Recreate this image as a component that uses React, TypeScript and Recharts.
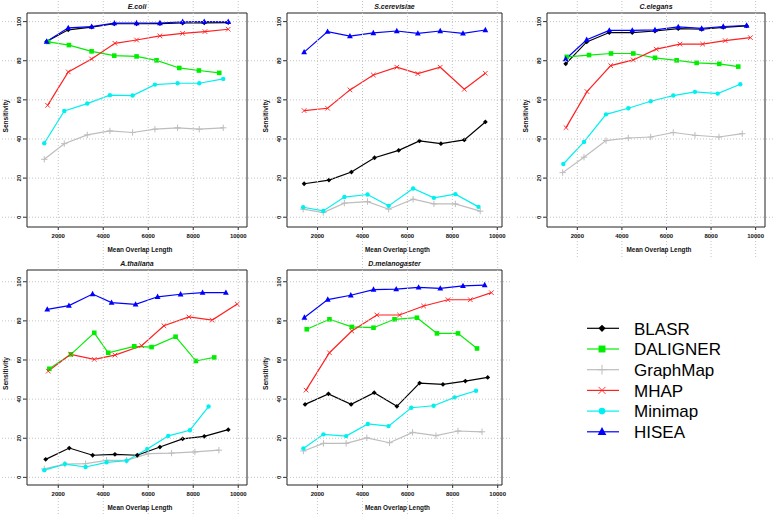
import React from "react";
import { Line, LineChart, ReferenceArea, XAxis, YAxis } from "recharts";

// [mean overlap length, sensitivity]
const ecoliBLASR = [[1484, 89.8], [2444, 95.8], [3484, 97.2], [4489, 98.9], [5484, 98.9], [6520, 99.0], [7529, 99.3], [8489, 99.4], [9556, 99.5]];
const ecoliDALIGNER = [[1556, 89.6], [2474, 88.0], [3481, 84.8], [4489, 82.6], [5481, 82.2], [6370, 80.2], [7378, 76.3], [8252, 75.0], [9156, 73.8]];
const ecoliGraphMap = [[1378, 29.6], [2267, 37.6], [3289, 42.1], [4296, 44.1], [5304, 43.3], [6296, 45.0], [7304, 45.7], [8267, 45.0], [9333, 45.7]];
const ecoliMHAP = [[1526, 57.2], [2444, 74.3], [3481, 80.9], [4519, 88.9], [5481, 90.6], [6519, 92.7], [7526, 94.0], [8519, 94.9], [9556, 96.1]];
const ecoliMinimap = [[1378, 37.8], [2267, 54.3], [3289, 58.1], [4296, 62.4], [5304, 62.2], [6296, 67.8], [7304, 68.5], [8267, 68.5], [9333, 70.7]];
const ecoliHISEA = [[1484, 89.8], [2444, 96.8], [3484, 97.4], [4489, 99.2], [5484, 99.3], [6520, 99.3], [7529, 99.9], [8489, 100], [9556, 99.9]];

const scerBLASR = [[1403, 17.1], [2507, 19.0], [3507, 23.1], [4537, 30.4], [5612, 34.2], [6536, 39.0], [7491, 37.6], [8531, 39.5], [9469, 48.7]];
const scerGraphMap = [[1358, 4.1], [2254, 2.4], [3194, 7.2], [4224, 8.0], [5164, 4.1], [6254, 9.2], [7179, 6.8], [8134, 6.8], [9239, 3.1]];
const scerMHAP = [[1402, 54.5], [2446, 55.7], [3442, 65.1], [4482, 72.7], [5527, 76.7], [6464, 73.4], [7460, 76.7], [8532, 65.4], [9469, 73.6]];
const scerMinimap = [[1358, 5.1], [2254, 3.2], [3194, 10.3], [4224, 11.6], [5164, 5.8], [6254, 14.7], [7179, 9.9], [8134, 11.8], [9164, 5.3]];
const scerHISEA = [[1402, 84.4], [2446, 94.9], [3442, 92.6], [4482, 94.2], [5527, 95.2], [6464, 94.0], [7460, 95.2], [8473, 94.0], [9469, 95.7]];

const celeBLASR = [[1480, 78.4], [2421, 89.6], [3435, 94.4], [4466, 94.4], [5484, 95.2], [6529, 96.4], [7578, 96.1], [8547, 97.1], [9596, 97.8]];
const celeDALIGNER = [[1525, 82.0], [2525, 82.9], [3511, 83.7], [4511, 83.7], [5484, 81.5], [6457, 80.2], [7354, 78.9], [8368, 78.4], [9220, 77.0]];
const celeGraphMap = [[1342, 22.8], [2300, 30.7], [3287, 39.2], [4287, 40.5], [5291, 41.0], [6305, 43.3], [7278, 41.9], [8356, 41.0], [9399, 42.7]];
const celeMHAP = [[1493, 45.8], [2435, 64.2], [3498, 77.5], [4511, 80.4], [5543, 85.9], [6605, 88.5], [7623, 88.5], [8632, 90.3], [9767, 91.8]];
const celeMinimap = [[1372, 27.2], [2300, 38.5], [3287, 52.6], [4287, 55.7], [5291, 59.3], [6305, 62.2], [7278, 64.1], [8296, 63.2], [9309, 68.0]];
const celeHISEA = [[1480, 80.9], [2421, 90.7], [3435, 95.5], [4466, 95.5], [5484, 95.8], [6529, 97.3], [7578, 96.5], [8547, 97.5], [9596, 98.0]];

const athaBLASR = [[1440, 9.2], [2489, 15.0], [3529, 11.3], [4519, 11.8], [5511, 11.3], [6519, 15.5], [7529, 19.7], [8489, 21.0], [9556, 24.4]];
const athaDALIGNER = [[1600, 55.5], [2563, 62.9], [3600, 73.9], [4222, 63.7], [5378, 67.0], [6148, 66.6], [7215, 71.9], [8119, 59.5], [8933, 61.3]];
const athaGraphMap = [[1378, 4.3], [2296, 6.8], [3215, 7.0], [4148, 8.7], [5037, 8.7], [6000, 12.1], [7037, 12.4], [8074, 13.0], [9141, 13.9]];
const athaMHAP = [[1556, 54.3], [2548, 62.9], [3600, 60.3], [4519, 62.5], [5704, 67.3], [6696, 77.5], [7807, 82.0], [8844, 80.4], [9956, 88.6]];
const athaMinimap = [[1378, 3.7], [2296, 6.8], [3215, 5.3], [4148, 7.7], [5037, 8.5], [5956, 14.5], [6889, 21.2], [7852, 24.1], [8681, 36.2]];
const athaHISEA = [[1511, 85.9], [2474, 87.8], [3526, 93.7], [4370, 89.3], [5437, 88.4], [6415, 92.3], [7437, 93.6], [8415, 94.4], [9452, 94.4]];

const dmelBLASR = [[1452, 37.3], [2489, 42.7], [3496, 37.3], [4519, 43.3], [5526, 36.3], [6533, 48.2], [7570, 47.5], [8563, 49.2], [9556, 51.1]];
const dmelDALIGNER = [[1526, 75.7], [2533, 80.8], [3526, 76.9], [4489, 76.5], [5422, 80.8], [6415, 81.6], [7304, 73.6], [8237, 73.6], [9081, 65.9]];
const dmelGraphMap = [[1378, 13.5], [2267, 17.4], [3274, 17.4], [4193, 20.2], [5200, 17.7], [6222, 23.0], [7259, 21.3], [8237, 23.7], [9304, 23.3]];
const dmelMHAP = [[1496, 44.6], [2533, 63.7], [3526, 74.8], [4637, 83.0], [5644, 83.0], [6711, 87.6], [7793, 90.8], [8785, 90.8], [9719, 94.4]];
const dmelMinimap = [[1378, 14.8], [2267, 22.0], [3274, 21.1], [4237, 27.3], [5156, 26.2], [6163, 35.6], [7156, 36.6], [8089, 40.9], [9037, 44.3]];
const dmelHISEA = [[1422, 81.7], [2459, 90.9], [3481, 93.1], [4489, 96.0], [5496, 96.2], [6489, 97.1], [7452, 96.6], [8459, 97.9], [9422, 98.3]];

const xTicks = [2000, 4000, 6000, 8000, 10000];
const yTicks = [0, 20, 40, 60, 80, 100];

const SERIES = [
  { name: "BLASR", color: "#000000", shape: "diamond" },
  { name: "DALIGNER", color: "#00ee00", shape: "square" },
  { name: "GraphMap", color: "#bdbdbd", shape: "plus" },
  { name: "MHAP", color: "#ff2020", shape: "cross" },
  { name: "Minimap", color: "#00f0f0", shape: "circle" },
  { name: "HISEA", color: "#0000ff", shape: "triangle" },
];

const FONT = "'Liberation Sans', Arial, Helvetica, sans-serif";
const GRID = "#c4c4c4";
const CW = 260;
const CH = 258;

const PANELS = [
  {
    title: "E.coli", left: 0, top: 0, plotLeft: 27, plotRight: 247, plotTop: 13, plotBottom: 227,
    xDomain: [610, 10390], yDomain: [-5, 104.4],
    data: { BLASR: ecoliBLASR, DALIGNER: ecoliDALIGNER, GraphMap: ecoliGraphMap, MHAP: ecoliMHAP, Minimap: ecoliMinimap, HISEA: ecoliHISEA },
  },
  {
    title: "S.cerevisiae", left: 255, top: 0, plotLeft: 32, plotRight: 247, plotTop: 13, plotBottom: 227,
    xDomain: [640, 10210], yDomain: [-5, 104.4],
    data: { BLASR: scerBLASR, GraphMap: scerGraphMap, MHAP: scerMHAP, Minimap: scerMinimap, HISEA: scerHISEA },
  },
  {
    title: "C.elegans", left: 515, top: 0, plotLeft: 32, plotRight: 250, plotTop: 13, plotBottom: 227,
    xDomain: [640, 10420], yDomain: [-5, 104.4],
    data: { BLASR: celeBLASR, DALIGNER: celeDALIGNER, GraphMap: celeGraphMap, MHAP: celeMHAP, Minimap: celeMinimap, HISEA: celeHISEA },
  },
  {
    title: "A.thaliana", left: 0, top: 257, plotLeft: 27, plotRight: 247, plotTop: 13, plotBottom: 228,
    xDomain: [610, 10390], yDomain: [-3.9, 106],
    data: { BLASR: athaBLASR, DALIGNER: athaDALIGNER, GraphMap: athaGraphMap, MHAP: athaMHAP, Minimap: athaMinimap, HISEA: athaHISEA },
  },
  {
    title: "D.melanogaster", left: 255, top: 257, plotLeft: 32, plotRight: 247, plotTop: 13, plotBottom: 228,
    xDomain: [650, 10190], yDomain: [-3.9, 106],
    data: { BLASR: dmelBLASR, DALIGNER: dmelDALIGNER, GraphMap: dmelGraphMap, MHAP: dmelMHAP, Minimap: dmelMinimap, HISEA: dmelHISEA },
  },
];

type Panel = (typeof PANELS)[number];

const Marker = ({ shape, cx, cy, color, s = 1 }: any) => {
  if (cx == null || cy == null) return null;
  switch (shape) {
    case "diamond": {
      const r = 2.4 * s;
      return <polygon points={`${cx},${cy - r} ${cx + r},${cy} ${cx},${cy + r} ${cx - r},${cy}`} fill={color} />;
    }
    case "square": {
      const h = 2.3 * s;
      return <rect x={cx - h} y={cy - h} width={2 * h} height={2 * h} fill={color} />;
    }
    case "plus": {
      const r = 3.2 * s;
      return <path d={`M${cx - r},${cy}H${cx + r}M${cx},${cy - r}V${cy + r}`} stroke={color} strokeWidth={1} fill="none" />;
    }
    case "cross": {
      const r = 2.3 * s;
      return <path d={`M${cx - r},${cy - r}L${cx + r},${cy + r}M${cx - r},${cy + r}L${cx + r},${cy - r}`} stroke={color} strokeWidth={0.9} fill="none" />;
    }
    case "circle":
      return <circle cx={cx} cy={cy} r={2.2 * s} fill={color} />;
    default: {
      const r = 2.9 * s;
      return <polygon points={`${cx},${cy - r * 1.1} ${cx + r},${cy + r * 0.75} ${cx - r},${cy + r * 0.75}`} fill={color} />;
    }
  }
};

const makeXTick = (p: Panel) => (props: any) => {
  const { x, payload } = props;
  return (
    <g>
      <line x1={x} x2={x} y1={p.plotTop - 12} y2={CH} stroke={GRID} strokeDasharray="1 2" />
      <line x1={x} x2={x} y1={p.plotBottom} y2={p.plotBottom + 3} stroke="#333" />
      <text x={x} y={p.plotBottom + 10.5} textAnchor="middle" fontSize={6} fontWeight="bold" fontFamily={FONT} fill="#111">
        {payload.value}
      </text>
    </g>
  );
};

const makeYTick = (p: Panel) => (props: any) => {
  const { y, payload } = props;
  const lx = p.plotLeft - 5.5;
  return (
    <g>
      <line x1={2} x2={p.plotRight + 10} y1={y} y2={y} stroke={GRID} strokeDasharray="1 2" />
      <line x1={p.plotLeft - 4} x2={p.plotLeft} y1={y} y2={y} stroke="#333" />
      <text x={lx} y={y} transform={`rotate(-90, ${lx}, ${y})`} textAnchor="middle" fontSize={6} fontWeight="bold" fontFamily={FONT} fill="#111">
        {payload.value}
      </text>
    </g>
  );
};

const PanelText = ({ p }: { p: Panel }) => {
  const midX = (p.plotLeft + p.plotRight) / 2;
  const midY = (p.plotTop + p.plotBottom) / 2 - 4;
  const yx = p.plotLeft - 19.5;
  return (
    <g fontFamily={FONT} fill="#111">
      <text x={midX} y={p.plotTop - 4.5} textAnchor="middle" fontSize={7} fontStyle="italic" fontWeight="bold">
        {p.title}
      </text>
      <text x={midX + 3} y={p.plotBottom + 24.5} textAnchor="middle" fontSize={6.4} fontWeight="bold">
        Mean Overlap Length
      </text>
      <text x={yx} y={midY} transform={`rotate(-90, ${yx}, ${midY})`} textAnchor="middle" fontSize={6.6} fontWeight="bold">
        Sensitivity
      </text>
    </g>
  );
};

const PanelChart = ({ p }: { p: Panel }) => (
  <div style={{ position: "absolute", left: p.left, top: p.top }}>
    <LineChart width={CW} height={CH} margin={{ top: p.plotTop, right: CW - p.plotRight, bottom: 0, left: 0 }}>
      <XAxis
        type="number"
        dataKey="x"
        domain={p.xDomain}
        ticks={xTicks}
        interval={0}
        allowDataOverflow
        height={CH - p.plotBottom}
        axisLine={false}
        tickLine={false}
        tick={makeXTick(p)}
        label={<PanelText p={p} />}
      />
      <YAxis
        type="number"
        domain={p.yDomain}
        ticks={yTicks}
        interval={0}
        allowDataOverflow
        width={p.plotLeft}
        axisLine={false}
        tickLine={false}
        tick={makeYTick(p)}
      />
      <ReferenceArea
        x1={p.xDomain[0]}
        x2={p.xDomain[1]}
        y1={p.yDomain[0]}
        y2={p.yDomain[1]}
        fill="none"
        fillOpacity={0}
        stroke="#222"
        strokeWidth={1}
        ifOverflow="visible"
      />
      {SERIES.filter((s) => (p.data as any)[s.name]).map((s) => (
        <Line
          key={s.name}
          data={(p.data as any)[s.name].map(([x, y]: number[]) => ({ x, y }))}
          dataKey="y"
          type="linear"
          stroke={s.color}
          strokeWidth={1.2}
          isAnimationActive={false}
          activeDot={false}
          legendType="none"
          dot={(d: any) => <Marker key={`${s.name}-${d.index}`} shape={s.shape} cx={d.cx} cy={d.cy} color={s.color} />}
        />
      ))}
    </LineChart>
  </div>
);

const LegendBox = () => (
  <svg width={219} height={160} style={{ position: "absolute", left: 560, top: 300 }}>
    {SERIES.map((s, i) => {
      const y = 28.3 + i * 20.7;
      return (
        <g key={s.name}>
          <line x1={27} x2={59} y1={y} y2={y} stroke={s.color} strokeWidth={1.2} />
          <Marker shape={s.shape} cx={42} cy={y} color={s.color} s={1.5} />
          <text x={74} y={y + 6.2} fontSize={17} fontFamily={FONT} fill="#000">
            {s.name}
          </text>
        </g>
      );
    })}
  </svg>
);

export default function App() {
  return (
    <div style={{ position: "absolute", left: 0, top: 0, width: 779, height: 520, background: "#fff", overflow: "hidden" }}>
      {PANELS.map((p) => (
        <PanelChart key={p.title} p={p} />
      ))}
      <LegendBox />
    </div>
  );
}
